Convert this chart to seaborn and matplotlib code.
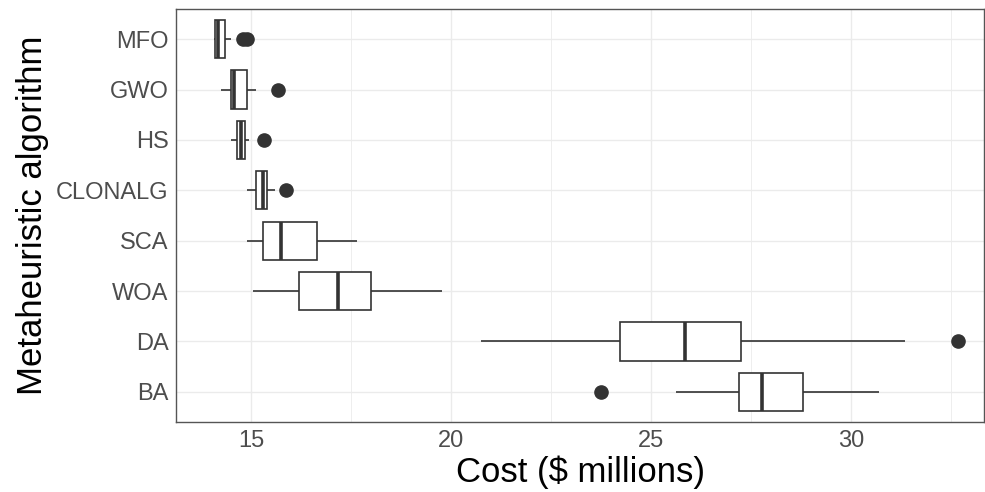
import pandas as pd
import numpy as np
import matplotlib
matplotlib.use('Agg')
import matplotlib.pyplot as plt
from matplotlib.ticker import MultipleLocator
import seaborn as sns

# algorithms, top to bottom
algorithms = ['MFO', 'GWO', 'HS', 'CLONALG', 'SCA', 'WOA', 'DA', 'BA']

# cost per run ($ millions)
mfo = [14.07, 14.09, 14.10, 14.11, 14.13, 14.15, 14.17, 14.22, 14.30, 14.36, 14.51, 14.81, 14.91]
gwo = [14.25, 14.38, 14.46, 14.50, 14.53, 14.55, 14.57, 14.66, 14.80, 14.91, 15.02, 15.13, 15.68]
hs = [14.51, 14.58, 14.62, 14.64, 14.70, 14.73, 14.76, 14.79, 14.82, 14.85, 14.90, 14.96, 15.32]
clonalg = [14.90, 15.02, 15.08, 15.12, 15.18, 15.24, 15.29, 15.33, 15.37, 15.40, 15.49, 15.61, 15.88]
sca = [14.91, 15.10, 15.22, 15.30, 15.48, 15.62, 15.74, 16.02, 16.35, 16.64, 17.05, 17.38, 17.65]
woa = [15.05, 15.60, 15.95, 16.20, 16.55, 16.90, 17.18, 17.45, 17.72, 18.00, 18.60, 19.20, 19.78]
da = [20.76, 22.10, 23.40, 24.22, 24.90, 25.40, 25.86, 26.30, 26.80, 27.25, 28.90, 31.36, 32.69]
ba = [23.76, 25.63, 26.50, 27.21, 27.40, 27.60, 27.79, 28.05, 28.40, 28.81, 29.40, 30.10, 30.70]

costs = [mfo, gwo, hs, clonalg, sca, woa, da, ba]
df = pd.DataFrame({
    'algorithm': np.repeat(algorithms, [len(c) for c in costs]),
    'cost': np.concatenate(costs),
})

sns.set_style('white')
plt.rcParams['font.family'] = ['Liberation Sans', 'DejaVu Sans']

DARK = '#333333'

fig = plt.figure(figsize=(9.85, 4.92), dpi=100)
ax = fig.add_axes([0.1787, 0.1423, 0.8203, 0.8394])

sns.boxplot(data=df, x='cost', y='algorithm', order=algorithms, ax=ax,
            color='white', linecolor=DARK, linewidth=1.2, width=0.76,
            fliersize=9.5, showcaps=False,
            flierprops=dict(marker='o', markerfacecolor=DARK, markeredgecolor=DARK),
            medianprops=dict(linewidth=2.6, color=DARK))

ax.set_xlim(13.125, 33.33)
ax.set_ylim(7.6, -0.6)
ax.xaxis.set_major_locator(MultipleLocator(5))
ax.xaxis.set_minor_locator(MultipleLocator(2.5))
ax.grid(True, which='major', color='#EBEBEB', linewidth=1.0, zorder=0)
ax.grid(True, which='minor', axis='x', color='#EBEBEB', linewidth=0.6, zorder=0)
ax.set_axisbelow(True)

for s in ax.spines.values():
    s.set_visible(True)
    s.set_color('#555555')
    s.set_linewidth(1.0)

ax.tick_params(axis='both', which='major', length=3.5, width=0.9, color=DARK,
               labelcolor='#4D4D4D', labelsize=17, pad=2)
ax.tick_params(axis='x', which='minor', length=0)

ax.set_xlabel('Cost ($ millions)', fontsize=25, color='black', labelpad=3)
ax.set_ylabel('Metaheuristic algorithm', fontsize=25, color='black', labelpad=5)

fig.savefig('out.png', dpi=100)
